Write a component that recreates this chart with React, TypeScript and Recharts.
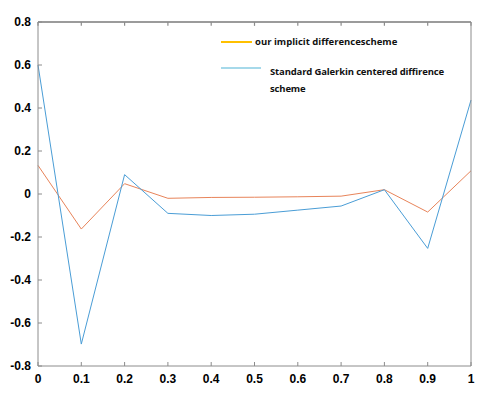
import { Line, LineChart, ReferenceLine, XAxis, YAxis } from 'recharts';

const xValues = [0, 0.1, 0.2, 0.3, 0.4, 0.5, 0.6, 0.7, 0.8, 0.9, 1];
const implicitScheme = [0.133, -0.163, 0.048, -0.02, -0.016, -0.015, -0.013, -0.01, 0.02, -0.084, 0.108];
const galerkinScheme = [0.6, -0.698, 0.09, -0.09, -0.1, -0.094, -0.075, -0.056, 0.02, -0.253, 0.437];
const xTicks = [0, 0.1, 0.2, 0.3, 0.4, 0.5, 0.6, 0.7, 0.8, 0.9, 1];
const yTicks = [-0.8, -0.6, -0.4, -0.2, 0, 0.2, 0.4, 0.6, 0.8];

const chartData = xValues.map((x, i) => ({ x, implicit: implicitScheme[i], galerkin: galerkinScheme[i] }));

const axisColor = '#8c8c8c';
const tickFont = { fontFamily: 'Liberation Sans, Arial, sans-serif', fontWeight: 700, fontSize: 12, fill: '#000' };
// inward tick length on the top border, in y units (~4px)
const topTickLen = 0.018;

const LegendBox = () => (
  <div style={{ position: 'absolute', left: 221, top: 35, width: 260, height: 70, fontFamily: 'Open Sans, sans-serif', fontWeight: 700, fontSize: 9.5, color: '#111' }}>
    <div style={{ position: 'absolute', left: 0, top: 6, width: 31, height: 2, background: '#ffc000' }} />
    <div style={{ position: 'absolute', left: 34, top: 0, lineHeight: '14px', whiteSpace: 'nowrap' }}>our implicit differencescheme</div>
    <div style={{ position: 'absolute', left: 0, top: 32, width: 40, height: 2, background: '#a6d9ea' }} />
    <div style={{ position: 'absolute', left: 49, top: 28, lineHeight: '17px', whiteSpace: 'nowrap', letterSpacing: -0.15 }}>
      Standard Galerkin centered diffirence
      <br />
      scheme
    </div>
  </div>
);

const fmt = (v: number) => (v === 0 ? '0' : String(Math.round(v * 10) / 10));

const App = () => (
  <div style={{ position: 'absolute', left: 0, top: 0, width: 492, height: 397, background: '#fff' }}>
    <LineChart width={492} height={397} data={chartData} margin={{ top: 22, right: 20, left: 0, bottom: 0 }}>
      <XAxis
        dataKey="x"
        type="number"
        domain={[0, 1]}
        ticks={xTicks}
        tickFormatter={fmt}
        height={31}
        stroke={axisColor}
        tickSize={-4}
        tickMargin={12}
        tick={tickFont}
        interval={0}
      />
      <YAxis
        yAxisId="left"
        type="number"
        domain={[-0.8, 0.8]}
        ticks={yTicks}
        tickFormatter={fmt}
        width={38}
        stroke={axisColor}
        tickSize={-4}
        tickMargin={11}
        tick={tickFont}
        interval={0}
      />
      <YAxis yAxisId="right" orientation="right" type="number" domain={[-0.8, 0.8]} ticks={yTicks} width={1} stroke={axisColor} tickSize={-4} tick={false} interval={0} />
      <ReferenceLine yAxisId="left" y={0.8} stroke="#7a7a7a" strokeWidth={1.5} ifOverflow="visible" />
      {xTicks.map((t) => (
        <ReferenceLine
          key={t}
          yAxisId="left"
          ifOverflow="visible"
          segment={[
            { x: t, y: 0.8 },
            { x: t, y: 0.8 - topTickLen },
          ]}
          stroke={axisColor}
          strokeWidth={1.2}
        />
      ))}
      <Line yAxisId="left" type="linear" dataKey="implicit" stroke="#e8845a" strokeWidth={1} dot={false} isAnimationActive={false} />
      <Line yAxisId="left" type="linear" dataKey="galerkin" stroke="#4a9dd6" strokeWidth={1} dot={false} isAnimationActive={false} />
    </LineChart>
    <LegendBox />
  </div>
);

export default App;
